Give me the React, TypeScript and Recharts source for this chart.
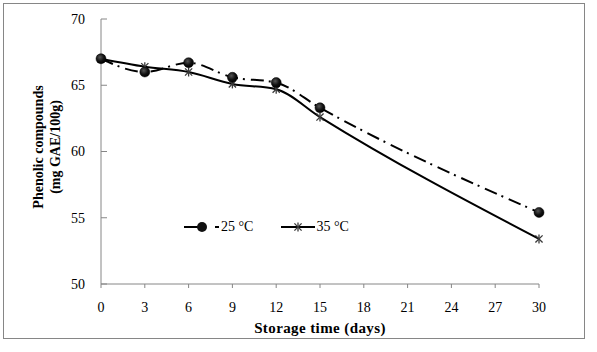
import { CartesianGrid, Legend, Line, LineChart, XAxis, YAxis } from "recharts";

const days = [0, 3, 6, 9, 12, 15, 30];
const phenolic25 = [67.0, 66.0, 66.7, 65.6, 65.2, 63.3, 55.4];
const phenolic35 = [67.0, 66.4, 66.0, 65.1, 64.7, 62.6, 53.4];
const dayTicks = [0, 3, 6, 9, 12, 15, 18, 21, 24, 27, 30];
const valueTicks = [50, 55, 60, 65, 70];

const axisGray = "#868686";
const font = "'Liberation Serif', 'Times New Roman', serif";

const chartData = days.map((day, i) => ({
  day,
  t25: phenolic25[i],
  t35: phenolic35[i],
}));

function CircleDot(props: any) {
  const { cx, cy } = props;
  if (cx == null || cy == null) return null;
  return <circle cx={cx} cy={cy} r={5} fill="url(#ballFill)" stroke="#000" strokeWidth={0.5} />;
}

function StarDot(props: any) {
  const { cx, cy } = props;
  if (cx == null || cy == null) return null;
  const r = 4.5;
  const d = r * 0.8;
  return (
    <g stroke="#3a3a3a" strokeWidth={1.3}>
      <line x1={cx} y1={cy - r} x2={cx} y2={cy + r} />
      <line x1={cx - d} y1={cy - d} x2={cx + d} y2={cy + d} />
      <line x1={cx - d} y1={cy + d} x2={cx + d} y2={cy - d} />
    </g>
  );
}

function LegendBox() {
  return (
    <div style={{ display: "flex", alignItems: "center", fontFamily: font, fontSize: 14, color: "#000" }}>
      <svg width={36} height={14}>
        <line x1={0} y1={7} x2={15} y2={7} stroke="#000" strokeWidth={2} />
        <circle cx={18} cy={7} r={5} fill="#111" />
        <line x1={31} y1={7} x2={35} y2={7} stroke="#000" strokeWidth={2} />
      </svg>
      <span style={{ marginLeft: 1 }}>25 °C</span>
      <svg width={34} height={14} style={{ marginLeft: 28 }}>
        <line x1={0} y1={7} x2={34} y2={7} stroke="#000" strokeWidth={2} />
        <StarDot cx={17} cy={7} />
      </svg>
      <span style={{ marginLeft: 1 }}>35 °C</span>
    </div>
  );
}

function YLabel(props: any) {
  const cy = 147;
  return (
    <g fontFamily={font} fontWeight="bold" fontSize={14} fill="#000">
      <text x={38} y={cy} transform={`rotate(-90, 38, ${cy})`} textAnchor="middle" dominantBaseline="central">
        Phenolic compounds
      </text>
      <text x={55} y={cy} transform={`rotate(-90, 55, ${cy})`} textAnchor="middle" dominantBaseline="central">
        (mg GAE/100g)
      </text>
    </g>
  );
}

export default function App() {
  return (
    <div style={{ position: "absolute", left: 0, top: 0, width: 597, height: 352, background: "#fff" }}>
      <div
        style={{
          position: "absolute",
          left: 3,
          top: 3,
          width: 582,
          height: 336,
          boxSizing: "border-box",
          border: `1px solid ${axisGray}`,
        }}
      />
      <LineChart
        width={597}
        height={352}
        data={chartData}
        margin={{ top: 19, right: 58, left: 41, bottom: 28 }}
      >
        <defs>
          <radialGradient id="ballFill" cx="40%" cy="35%" r="65%">
            <stop offset="0%" stopColor="#555" />
            <stop offset="60%" stopColor="#111" />
            <stop offset="100%" stopColor="#000" />
          </radialGradient>
        </defs>
        <CartesianGrid horizontal={false} vertical={false} />
        <XAxis
          dataKey="day"
          type="number"
          domain={[0, 30]}
          ticks={dayTicks}
          interval={0}
          height={40}
          stroke={axisGray}
          tickSize={4}
          tickMargin={14}
          tick={{ fill: "#000", fontFamily: font, fontSize: 14 }}
          label={{
            value: "Storage time  (days)",
            position: "insideBottom",
            offset: -9,
            style: { fill: "#000", fontFamily: font, fontWeight: "bold", fontSize: 15, letterSpacing: 0.4 },
          }}
        />
        <YAxis
          type="number"
          domain={[50, 70]}
          ticks={valueTicks}
          width={60}
          stroke={axisGray}
          tickSize={-6}
          tickMargin={22}
          tick={{ fill: "#000", fontFamily: font, fontSize: 14 }}
          label={<YLabel />}
        />
        <Legend
          layout="horizontal"
          verticalAlign="middle"
          align="center"
          content={<LegendBox />}
          wrapperStyle={{ top: 219, left: 184, width: 200, height: 16 }}
        />
        <Line
          type="monotone"
          dataKey="t35"
          name="35 °C"
          stroke="#000"
          strokeWidth={2}
          dot={<StarDot />}
          activeDot={false}
          isAnimationActive={false}
        />
        <Line
          type="monotone"
          dataKey="t25"
          name="25 °C"
          stroke="#000"
          strokeWidth={2}
          strokeDasharray="13 5 2 6"
          dot={<CircleDot />}
          activeDot={false}
          isAnimationActive={false}
        />
      </LineChart>
    </div>
  );
}
